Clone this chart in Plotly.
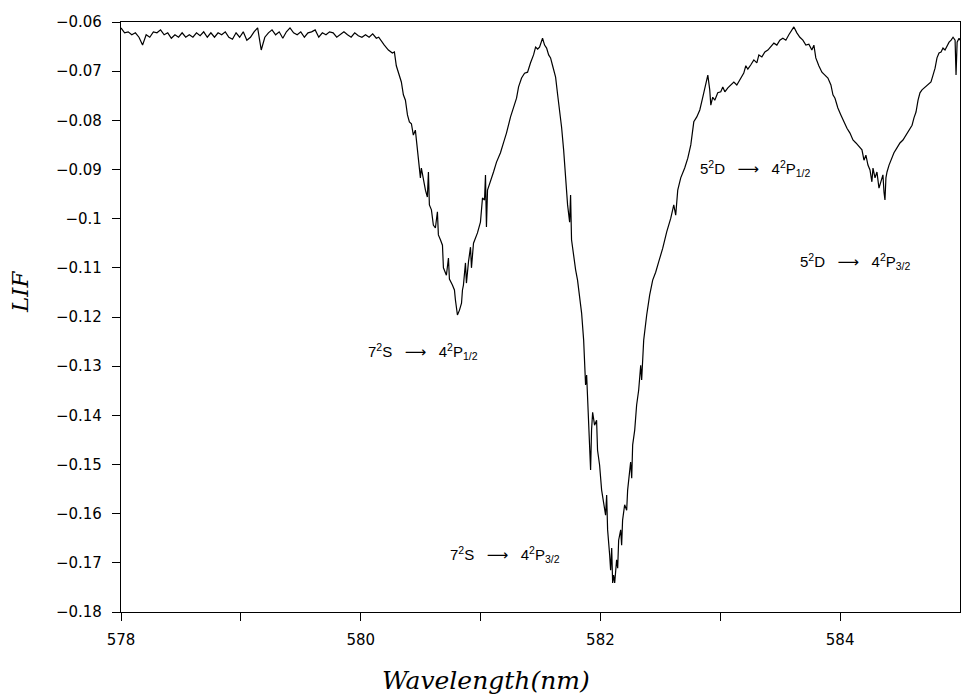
import plotly.graph_objects as go

# Laser-induced fluorescence scan: (wavelength in nm, LIF signal)

# flat background before the first line
baseline = [
    (578.00, -0.0612), (578.03, -0.0622), (578.06, -0.0620), (578.09, -0.0626), (578.12, -0.0622),
    (578.15, -0.0631), (578.18, -0.0647), (578.21, -0.0626), (578.24, -0.0631), (578.27, -0.0620),
    (578.30, -0.0622), (578.33, -0.0616), (578.36, -0.0626), (578.39, -0.0622), (578.42, -0.0633),
    (578.45, -0.0626), (578.48, -0.0631), (578.51, -0.0622), (578.54, -0.0631), (578.57, -0.0626),
    (578.60, -0.0631), (578.63, -0.0622), (578.66, -0.0628), (578.69, -0.0620), (578.72, -0.0631),
    (578.75, -0.0622), (578.78, -0.0631), (578.81, -0.0622), (578.84, -0.0626), (578.87, -0.0620),
    (578.90, -0.0631), (578.93, -0.0635), (578.96, -0.0622), (578.99, -0.0631), (579.02, -0.0620),
    (579.05, -0.0637), (579.08, -0.0631), (579.11, -0.0620), (579.14, -0.0612), (579.17, -0.0657),
    (579.20, -0.0631), (579.23, -0.0622), (579.26, -0.0616), (579.29, -0.0626), (579.32, -0.0620),
    (579.35, -0.0633), (579.38, -0.0620), (579.41, -0.0612), (579.44, -0.0622), (579.47, -0.0626),
    (579.50, -0.0620), (579.53, -0.0631), (579.56, -0.0622), (579.59, -0.0620), (579.62, -0.0616),
    (579.65, -0.0631), (579.68, -0.0622), (579.71, -0.0626), (579.74, -0.0620), (579.77, -0.0622),
    (579.80, -0.0631), (579.83, -0.0626), (579.86, -0.0620), (579.89, -0.0626), (579.92, -0.0631),
    (579.95, -0.0622), (579.98, -0.0628), (580.01, -0.0631), (580.04, -0.0626), (580.07, -0.0631),
    (580.10, -0.0624), (580.13, -0.0633), (580.15, -0.0631),
]

# 7S -> 4P1/2 line
dip_7s_p12 = [
    (580.197, -0.0647), (580.231, -0.0657), (580.264, -0.0663), (580.281, -0.0661), (580.297, -0.0689),
    (580.314, -0.0702), (580.339, -0.0722), (580.356, -0.0748), (580.373, -0.0759), (580.390, -0.0789),
    (580.406, -0.0803), (580.423, -0.0807), (580.439, -0.0830), (580.456, -0.0820), (580.473, -0.0860),
    (580.489, -0.0891), (580.498, -0.0917), (580.506, -0.0897), (580.523, -0.0921), (580.540, -0.0942),
    (580.556, -0.0956), (580.565, -0.0905), (580.573, -0.0972), (580.590, -0.0982), (580.606, -0.1013),
    (580.623, -0.1019), (580.640, -0.0986), (580.648, -0.1033), (580.665, -0.1043), (580.682, -0.1054),
    (580.690, -0.1100), (580.715, -0.1115), (580.732, -0.1080), (580.740, -0.1123), (580.765, -0.1135),
    (580.782, -0.1145), (580.790, -0.1165), (580.807, -0.1196), (580.824, -0.1186), (580.841, -0.1172),
    (580.849, -0.1145), (580.857, -0.1135), (580.874, -0.1090), (580.882, -0.1131), (580.899, -0.1088),
    (580.916, -0.1058), (580.924, -0.1100), (580.941, -0.1050), (580.974, -0.1029), (580.999, -0.1007),
    (581.016, -0.0958), (581.033, -0.0962), (581.041, -0.0911), (581.049, -0.1017), (581.058, -0.0942),
    (581.083, -0.0921), (581.108, -0.0905), (581.133, -0.0885), (581.166, -0.0866), (581.191, -0.0846),
    (581.216, -0.0826), (581.250, -0.0793), (581.275, -0.0775), (581.300, -0.0755), (581.317, -0.0732),
    (581.342, -0.0714), (581.367, -0.0704), (581.392, -0.0702), (581.417, -0.0683), (581.442, -0.0667),
    (581.459, -0.0651), (581.476, -0.0655), (581.492, -0.0651), (581.509, -0.0641), (581.517, -0.0633),
]

# 7S -> 4P3/2 line
dip_7s_p32 = [
    (581.534, -0.0647), (581.551, -0.0653), (581.568, -0.0667), (581.584, -0.0673), (581.601, -0.0689),
    (581.626, -0.0712), (581.643, -0.0748), (581.659, -0.0779), (581.676, -0.0814), (581.693, -0.0860),
    (581.709, -0.0921), (581.726, -0.0972), (581.743, -0.1007), (581.751, -0.0952), (581.759, -0.1043),
    (581.776, -0.1080), (581.793, -0.1104), (581.809, -0.1125), (581.826, -0.1155), (581.843, -0.1192),
    (581.860, -0.1247), (581.868, -0.1288), (581.876, -0.1338), (581.885, -0.1318), (581.893, -0.1369),
    (581.901, -0.1410), (581.910, -0.1450), (581.918, -0.1511), (581.926, -0.1430), (581.935, -0.1394),
    (581.951, -0.1420), (581.968, -0.1410), (581.976, -0.1471), (581.993, -0.1501), (582.010, -0.1552),
    (582.027, -0.1582), (582.043, -0.1603), (582.052, -0.1562), (582.060, -0.1633), (582.077, -0.1684),
    (582.085, -0.1715), (582.094, -0.1670), (582.102, -0.1741), (582.110, -0.1725), (582.119, -0.1741),
    (582.135, -0.1694), (582.144, -0.1711), (582.152, -0.1654), (582.169, -0.1633), (582.177, -0.1664),
    (582.185, -0.1613), (582.202, -0.1582), (582.219, -0.1593), (582.227, -0.1552), (582.244, -0.1521),
    (582.252, -0.1495), (582.261, -0.1528), (582.269, -0.1460), (582.286, -0.1430), (582.302, -0.1379),
    (582.319, -0.1349), (582.336, -0.1298), (582.344, -0.1328), (582.361, -0.1247), (582.386, -0.1196),
    (582.411, -0.1155), (582.436, -0.1125), (582.461, -0.1109), (582.486, -0.1088), (582.520, -0.1060),
    (582.553, -0.1027), (582.587, -0.0999), (582.612, -0.0972),
]

# 5D -> 4P1/2 and 5D -> 4P3/2 lines
dips_5d = [
    (582.628, -0.0993), (582.645, -0.0942), (582.670, -0.0917), (582.703, -0.0897), (582.729, -0.0877),
    (582.754, -0.0850), (582.779, -0.0803), (582.804, -0.0793), (582.829, -0.0779), (582.854, -0.0753),
    (582.879, -0.0728), (582.896, -0.0708), (582.912, -0.0738), (582.921, -0.0769), (582.937, -0.0753),
    (582.954, -0.0759), (582.979, -0.0744), (583.004, -0.0742), (583.021, -0.0732), (583.038, -0.0742),
    (583.063, -0.0734), (583.088, -0.0728), (583.113, -0.0722), (583.138, -0.0728), (583.171, -0.0714),
    (583.196, -0.0704), (583.213, -0.0689), (583.230, -0.0696), (583.255, -0.0687), (583.280, -0.0677),
    (583.305, -0.0683), (583.322, -0.0667), (583.347, -0.0671), (583.372, -0.0661), (583.397, -0.0657),
    (583.422, -0.0651), (583.447, -0.0643), (583.472, -0.0647), (583.497, -0.0637), (583.522, -0.0633),
    (583.547, -0.0637), (583.572, -0.0626), (583.597, -0.0616), (583.614, -0.0610), (583.639, -0.0622),
    (583.664, -0.0631), (583.689, -0.0637), (583.714, -0.0647), (583.739, -0.0645), (583.764, -0.0657),
    (583.781, -0.0647), (583.797, -0.0673), (583.822, -0.0689), (583.848, -0.0702), (583.873, -0.0708),
    (583.898, -0.0714), (583.923, -0.0728), (583.940, -0.0748), (583.957, -0.0755), (583.981, -0.0775),
    (584.006, -0.0789), (584.032, -0.0803), (584.057, -0.0816), (584.082, -0.0826), (584.107, -0.0840),
    (584.132, -0.0846), (584.157, -0.0854), (584.182, -0.0860), (584.199, -0.0881), (584.215, -0.0871),
    (584.232, -0.0891), (584.249, -0.0901), (584.265, -0.0925), (584.274, -0.0897), (584.291, -0.0917),
    (584.307, -0.0905), (584.324, -0.0938), (584.341, -0.0921), (584.357, -0.0911), (584.366, -0.0946),
    (584.374, -0.0962), (584.382, -0.0917), (584.391, -0.0905), (584.408, -0.0891), (584.424, -0.0881),
    (584.449, -0.0866), (584.474, -0.0856), (584.499, -0.0846), (584.524, -0.0840), (584.549, -0.0830),
    (584.575, -0.0820), (584.600, -0.0810), (584.616, -0.0795), (584.633, -0.0783), (584.650, -0.0759),
    (584.666, -0.0744), (584.683, -0.0738), (584.708, -0.0732), (584.733, -0.0728), (584.758, -0.0722),
    (584.775, -0.0708), (584.792, -0.0694), (584.808, -0.0673), (584.825, -0.0663), (584.842, -0.0661),
    (584.858, -0.0653), (584.875, -0.0657), (584.892, -0.0647), (584.909, -0.0641), (584.926, -0.0637),
    (584.942, -0.0631), (584.959, -0.0637), (584.967, -0.0708), (584.976, -0.0641), (584.992, -0.0633),
    (585.000, -0.0637),
]

x_major_ticks = [578, 580, 582, 584]
x_tick_text = ["578", "580", "582", "584"]
x_minor_ticks = [579, 581, 583]
y_ticks = [-0.06, -0.07, -0.08, -0.09, -0.10, -0.11, -0.12, -0.13, -0.14, -0.15, -0.16, -0.17, -0.18]
y_tick_text = ["\u22120.06", "\u22120.07", "\u22120.08", "\u22120.09", "\u22120.1", "\u22120.11",
               "\u22120.12", "\u22120.13", "\u22120.14", "\u22120.15", "\u22120.16", "\u22120.17",
               "\u22120.18"]

# transition labels: (text, wavelength, LIF)
transitions = [
    ("7<sup>2</sup>S   \u27f6   4<sup>2</sup>P<sub>1/2</sub>", 580.52, -0.1271),
    ("7<sup>2</sup>S   \u27f6   4<sup>2</sup>P<sub>3/2</sub>", 581.20, -0.1684),
    ("5<sup>2</sup>D   \u27f6   4<sup>2</sup>P<sub>1/2</sub>", 583.29, -0.0897),
    ("5<sup>2</sup>D   \u27f6   4<sup>2</sup>P<sub>3/2</sub>", 584.12, -0.1088),
]

spectrum = baseline + dip_7s_p12 + dip_7s_p32 + dips_5d
wavelength = [p[0] for p in spectrum]
lif = [p[1] for p in spectrum]

fig = go.Figure(
    go.Scatter(x=wavelength, y=lif, mode="lines",
               line=dict(color="black", width=1.2), hoverinfo="x+y")
)

tick_font = dict(family="DejaVu Sans", size=15, color="black")
axis_common = dict(
    showline=True, linecolor="black", linewidth=1.2, mirror=True,
    ticks="outside", ticklen=8, tickwidth=1, tickcolor="black",
    showgrid=False, zeroline=False, tickfont=tick_font,
)

fig.update_xaxes(range=[578, 585], tickvals=x_major_ticks, ticktext=x_tick_text,
                 minor=dict(tickvals=x_minor_ticks, ticks="outside", ticklen=8,
                            tickwidth=1, tickcolor="black", showgrid=False),
                 ticklabelstandoff=6, **axis_common)
fig.update_yaxes(range=[-0.18, -0.06], tickvals=y_ticks, ticktext=y_tick_text,
                 ticklabelstandoff=7, **axis_common)

annotations = []
for text, wl, val in transitions:
    annotations.append(dict(
        x=wl, y=val, xref="x", yref="y", text=text, showarrow=False,
        font=dict(family="Liberation Sans, DejaVu Sans", size=15, color="black"),
    ))

# axis titles
annotations.append(dict(
    x=-0.1204, y=0.5424, xref="paper", yref="paper", text="<i>LIF</i>",
    textangle=-90, showarrow=False, xanchor="center", yanchor="middle",
    font=dict(family="DejaVu Serif", size=23, color="black"),
))
annotations.append(dict(
    x=0.435, y=-0.1153, xref="paper", yref="paper", text="<i>Wavelength(nm)</i>",
    showarrow=False, xanchor="center", yanchor="middle",
    font=dict(family="DejaVu Serif", size=25, color="black"),
))

fig.update_layout(
    width=969, height=694,
    margin=dict(l=121, r=9, t=22, b=82),
    paper_bgcolor="white", plot_bgcolor="white",
    showlegend=False,
    annotations=annotations,
)

fig.write_html("out.html")
